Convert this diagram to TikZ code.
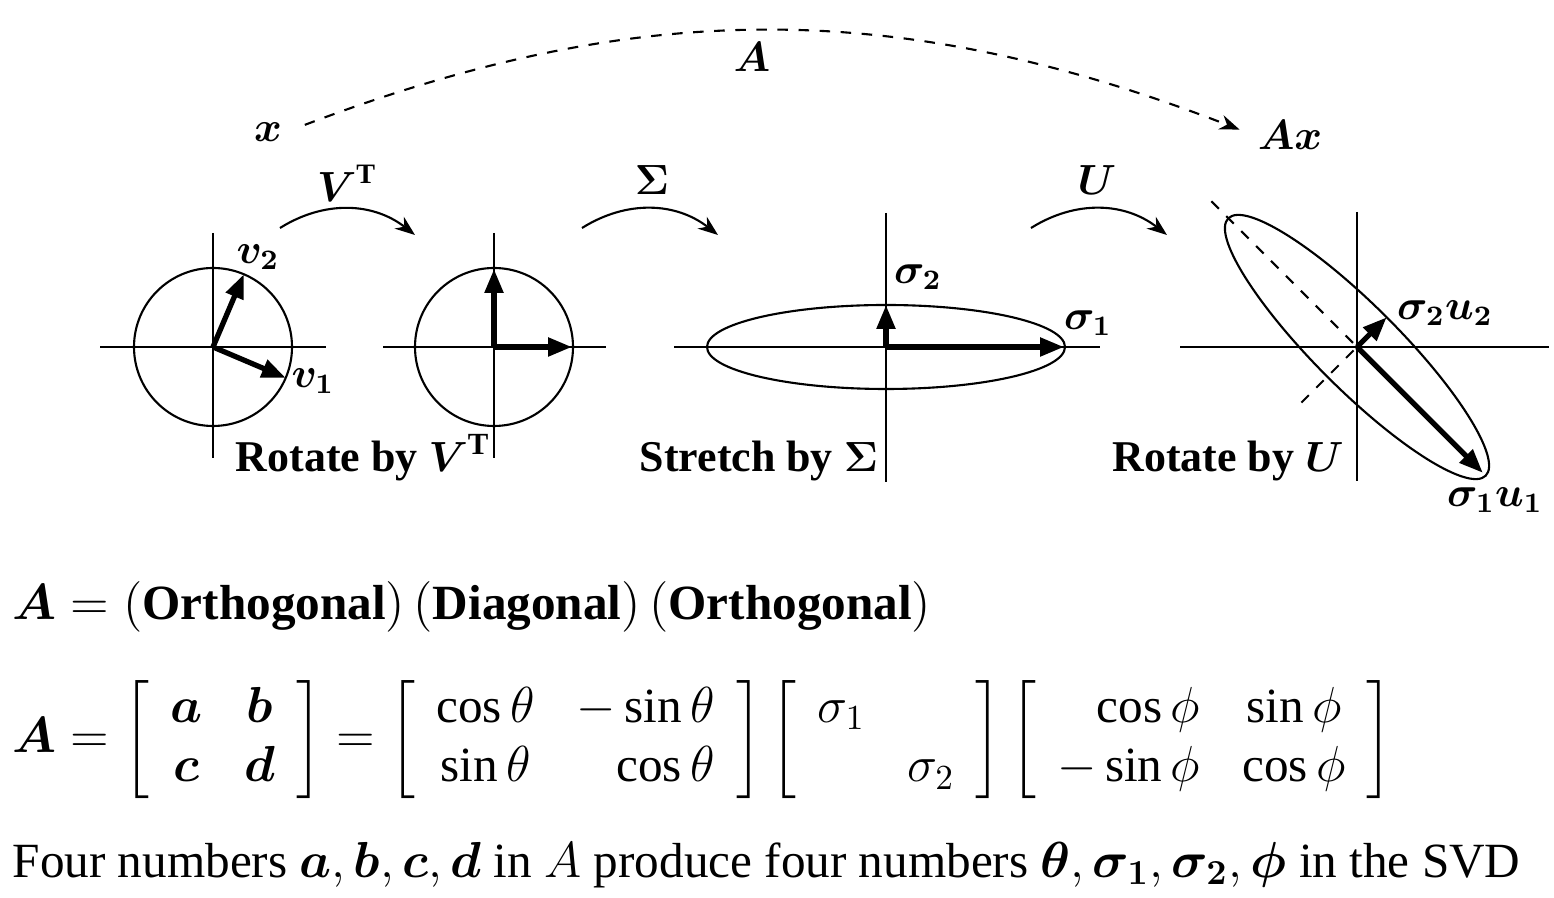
\documentclass[tikz,border=0pt]{standalone}
\usepackage{amsmath,amssymb}
\usepackage{fontspec}
\setmainfont{Liberation Serif}
\usetikzlibrary{arrows.meta,positioning,calc}
\newcommand{\bs}[1]{\boldsymbol{#1}}

\begin{document}
\begin{tikzpicture}[x=0.1mm,y=0.1mm,
    ax/.style={line width=0.6pt},
    vec/.style={-{Triangle[length=2.4mm,width=1.8mm]},line width=1.5pt},
    turn/.style={-{Stealth[length=2mm,width=1.5mm]},line width=0.6pt,bend left=35},
    lbl/.style={font=\fontsize{12}{14}\selectfont,inner sep=1pt},
    capt/.style={font=\fontsize{12.5}{15}\selectfont\bfseries,anchor=base},
    eq/.style={font=\fontsize{14}{17}\selectfont,anchor=west,inner sep=0pt}]
    \useasboundingbox (0,0) rectangle (1554,-898);
    % panel 1: unit circle with v1, v2
    \coordinate (o1) at (213,-347);
    \draw[ax] ($(o1)+(-113,0)$) -- ($(o1)+(113,0)$);
    \draw[ax] ($(o1)+(0,114)$) -- ($(o1)+(0,-111)$);
    \draw[ax] (o1) circle[radius=79];
    \coordinate (v1) at ($(o1)+(-23:79)$);
    \coordinate (v2) at ($(o1)+(67:79)$);
    \draw[vec] (o1) -- (v1);\draw[vec] (o1) -- (v2);
    \node[lbl] (lv1) at (313,-381) {$\bs{v_1}$};
    \node[lbl] (lv2) at (258,-257) {$\bs{v_2}$};
    % panel 2
    \coordinate (o2) at (494,-347);
    \draw[ax] ($(o2)+(-111,0)$) -- ($(o2)+(112,0)$);
    \draw[ax] ($(o2)+(0,114)$) -- ($(o2)+(0,-111)$);
    \draw[ax] (o2) circle[radius=79];
    \coordinate (e1) at ($(o2)+(78,0)$);
    \coordinate (e2) at ($(o2)+(0,78)$);
    \draw[vec] (o2) -- (e1);\draw[vec] (o2) -- (e2);
    \node[capt] (c1) at (363,-472) {Rotate by $\bs{V}^{\mathbf{T}}$};
    % panel 3: stretched ellipse
    \coordinate (o3) at (886,-347);
    \draw[ax] ($(o3)+(-212,0)$) -- ($(o3)+(214,0)$);
    \draw[ax] ($(o3)+(0,134)$) -- ($(o3)+(0,-135)$);
    \draw[ax] (o3) ellipse[x radius=179,y radius=42];
    \coordinate (s1) at ($(o3)+(178,0)$);
    \coordinate (s2) at ($(o3)+(0,42)$);
    \draw[vec] (o3) -- (s1);\draw[vec] (o3) -- (s2);
    \node[lbl] (ls1) at (1088,-323) {$\bs{\sigma_1}$};
    \node[lbl] (ls2) at (918,-277) {$\bs{\sigma_2}$};
    \node[capt] (c2) at (759,-472) {Stretch by $\bs{\Sigma}$};
    % panel 4: rotated ellipse
    \coordinate (o4) at (1357,-347);
    \draw[ax] ($(o4)+(-177,0)$) -- ($(o4)+(192,0)$);
    \draw[ax] ($(o4)+(0,135)$) -- ($(o4)+(0,-134)$);
    \draw[ax,rotate around={-45:(o4)}] (o4) ellipse[x radius=182,y radius=42];
    \coordinate (d1) at ($(o4)+(135:206)$);
    \coordinate (d2) at ($(o4)+(-135:80)$);
    \draw[ax,dashed] (d1) -- (o4) -- (d2);
    \coordinate (u1) at ($(o4)+(-45:178)$);
    \coordinate (u2) at ($(o4)+(45:42)$);
    \draw[vec] (o4) -- (u1);\draw[vec] (o4) -- (u2);
    \node[lbl] (lu1) at (1495,-500) {$\bs{\sigma_1 u_1}$};
    \node[lbl] (lu2) at (1445,-313) {$\bs{\sigma_2 u_2}$};
    \node[capt] (c3) at (1228,-472) {Rotate by $\bs{U}$};
    % the three steps
    \coordinate (a1) at (280,-228);\coordinate (b1) at (415,-235);
    \coordinate (a2) at (582,-228);\coordinate (b2) at (718,-235);
    \coordinate (a3) at (1031,-228);\coordinate (b3) at (1167,-235);
    \draw[turn] (a1) to (b1);
    \draw[turn] (a2) to (b2);
    \draw[turn] (a3) to (b3);
    \node[lbl] (t1) at (347,-183) {$\bs{V}^{\mathbf{T}}$};
    \node[lbl] (t2) at (652,-180) {$\bs{\Sigma}$};
    \node[lbl] (t3) at (1097,-180) {$\bs{U}$};
    % x goes to Ax
    \node[lbl] (x) at (268,-132) {$\bs{x}$};
    \node[lbl] (Ax) at (1290,-135) {$\bs{Ax}$};
    \node[lbl] (A) at (752,-57) {$\bs{A}$};
    \draw[ax,dashed,-{Stealth[length=2mm,width=1.5mm]},shorten <=2mm,shorten >=1.5mm]
      (x.east) to[bend left=21] (Ax.west);
    % equations
    \node[eq] (eq1) at (12,-607) {$\bs{A} = (\textbf{Orthogonal})\,(\textbf{Diagonal})\,(\textbf{Orthogonal})$};
    \node[eq] (eq2) at (12,-740) {\arraycolsep=6pt$\bs{A} =
      \left[\begin{array}{cc} \bs{a} & \bs{b}\\ \bs{c} & \bs{d}\end{array}\right] =
      \left[\begin{array}{cr} \cos\theta & -\sin\theta\\ \sin\theta & \cos\theta\end{array}\right]
      \left[\begin{array}{cc} \sigma_1 & \\ & \sigma_2\end{array}\right]
      \left[\begin{array}{rc} \cos\phi & \sin\phi\\ -\sin\phi & \cos\phi\end{array}\right]$};
    \node[eq] (eq3) at (12,-865) {Four numbers $\bs{a},\bs{b},\bs{c},\bs{d}$ in $A$ produce four numbers $\bs{\theta},\bs{\sigma_1},\bs{\sigma_2},\bs{\phi}$ in the SVD};
\end{tikzpicture}
\end{document}
